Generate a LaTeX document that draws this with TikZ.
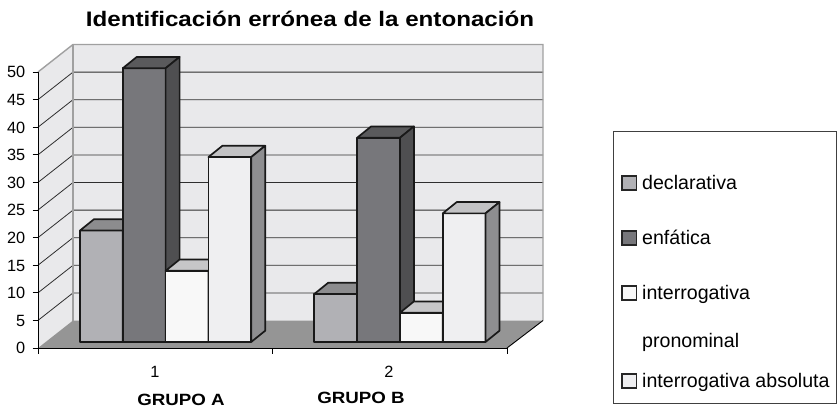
\documentclass[tikz,border=0pt]{standalone}
\usepackage{fontspec}
\setmainfont{Liberation Sans}
\newfontfamily\widebold[FakeStretch=1.15]{Liberation Sans Bold}
\definecolor{wallc}{HTML}{E9E9EB}
\definecolor{framec}{HTML}{A0A0A0}
\definecolor{floorc}{HTML}{959595}
\definecolor{gridc}{HTML}{2E2E2E}
\definecolor{declF}{HTML}{B1B1B5}
\definecolor{declT}{HTML}{8C8C8E}
\definecolor{declS}{HTML}{7E7E80}
\definecolor{enfF}{HTML}{77777B}
\definecolor{enfT}{HTML}{5A5A5C}
\definecolor{enfS}{HTML}{4F4F51}
\definecolor{proF}{HTML}{F8F8F8}
\definecolor{proT}{HTML}{C6C6C8}
\definecolor{proS}{HTML}{9A9A9C}
\definecolor{absF}{HTML}{EFEFF1}
\definecolor{absT}{HTML}{C2C2C4}
\definecolor{absS}{HTML}{8E8E90}
\tikzset{
  barline/.style={draw=black!90, line width=1.7pt, line join=round},
  axisline/.style={draw=black, line width=0.9pt},
  gridline/.style={draw=gridc, line width=0.8pt},
  ticklab/.style={anchor=base east, font=\fontsize{16.3}{16}\selectfont, inner sep=0pt},
  catlab/.style={anchor=base, font=\fontsize{16.3}{16}\selectfont, inner sep=0pt},
  grplab/.style={anchor=base, font=\fontsize{16.3}{16}\selectfont\widebold, inner sep=0pt},
  legtext/.style={anchor=base west, font=\fontsize{19.6}{19}\selectfont, inner sep=0pt},
  legkey/.style={draw=black!85, line width=1.5pt}
}
\newcommand{\cuboid}[5]{%
  \pgfmathsetmacro\ytop{342-#2*5.52}%
  \filldraw[barline, fill=#3] (#1,342) rectangle (#1+42.8,\ytop);
  \filldraw[barline, fill=#4] (#1,\ytop) -- ++(14,-11.3) -- ++(42.8,0) -- ++(-14,11.3) -- cycle;
  \filldraw[barline, fill=#5] (#1+42.8,342) -- ++(14,-11.3) -- (#1+56.8,\ytop-11.3) -- (#1+42.8,\ytop) -- cycle;
}
\begin{document}
\begin{tikzpicture}[x=1pt,y=-1pt]
\useasboundingbox (0,0) rectangle (839,408);
\fill[white] (0,0) rectangle (839,408);
% title
\node[anchor=base, inner sep=0pt, font=\fontsize{21}{21}\selectfont\widebold] (title) at (310,26.7) {Identificación errónea de la entonación};
% walls
\fill[wallc] (38,348) -- (38,72) -- (73,44.5) -- (73,320.5) -- cycle;
\fill[wallc] (73,44.5) rectangle (543,320.5);
\foreach \v in {5,10,...,45}{
  \draw[gridline] (38,348-\v*5.52) -- (73,320.5-\v*5.52) -- (543,320.5-\v*5.52);
}
\draw[framec, line width=1.4pt] (38,72) -- (73,44.5) -- (543,44.5) -- (543,320.5);
\draw[framec, line width=1.4pt] (73,44.5) -- (73,320.5);
% floor
\fill[floorc] (38,348) -- (507,348) -- (543,320.5) -- (73,320.5) -- cycle;
\draw[black, line width=0.9pt] (507,348) -- (543,320.5);
% axes
\draw[axisline] (38,72) -- (38,348) -- (507,348);
\foreach \v in {0,5,...,50}{
  \draw[axisline] (32.5,348-\v*5.52) -- (38,348-\v*5.52);
  \node[ticklab] at (25.5,348-\v*5.52+5.9) {\v};
}
\foreach \x in {38,272,507}{
  \draw[axisline] (\x,348) -- (\x,354);
}
% bars group A
\cuboid{80}{20.2}{declF}{declT}{declS}
\cuboid{122.8}{49.6}{enfF}{enfT}{enfS}
\cuboid{165.6}{12.9}{proF}{proT}{proS}
\cuboid{208.4}{33.5}{absF}{absT}{absS}
% bars group B
\cuboid{314.3}{8.7}{declF}{declT}{declS}
\cuboid{357.1}{37}{enfF}{enfT}{enfS}
\cuboid{399.9}{5.3}{proF}{proT}{proS}
\cuboid{442.7}{23.3}{absF}{absT}{absS}
% category labels
\node[catlab] (c1) at (155,377.5) {1};
\node[catlab] (c2) at (389,377.5) {2};
\node[grplab] (ga) at (181,405) {GRUPO A};
\node[grplab] (gb) at (361,403) {GRUPO B};
% legend
\node[draw=black!75, line width=0.8pt, minimum width=223pt, minimum height=272pt, anchor=north west, inner sep=0pt] (legend) at (613,131) {};
\draw[legkey, fill=declF] (622,176) rectangle (636.5,190);
\node[legtext] (l1) at (642,189.8) {declarativa};
\draw[legkey, fill=enfF] (622,231) rectangle (636.5,245);
\node[legtext] (l2) at (642,244.8) {enfática};
\draw[legkey, fill=proF] (622,286) rectangle (636.5,300);
\node[legtext] (l3) at (642,299.8) {interrogativa};
\node[legtext] (l3b) at (642,347.8) {pronominal};
\draw[legkey, fill=absF] (622,374) rectangle (636.5,388);
\node[legtext] (l4) at (642,387.8) {interrogativa absoluta};
\end{tikzpicture}
\end{document}
